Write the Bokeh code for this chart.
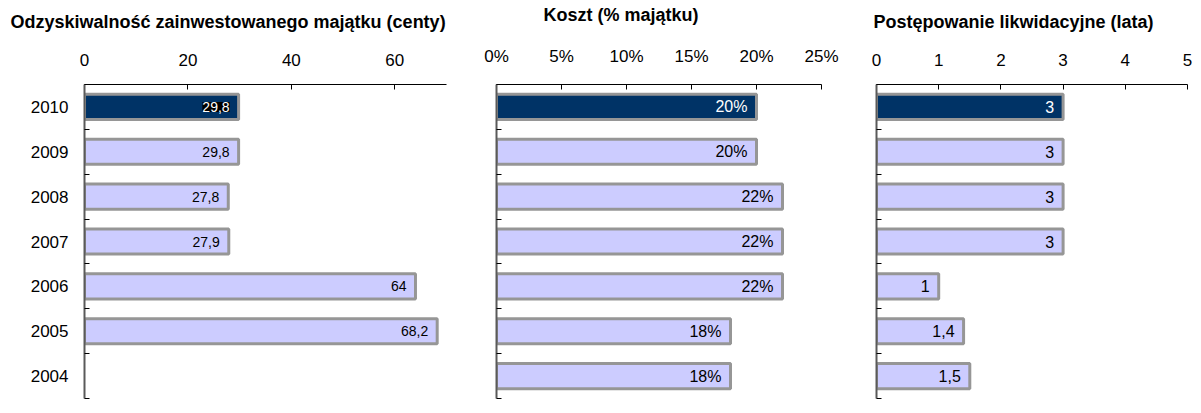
from bokeh.plotting import figure
from bokeh.layouts import row
from bokeh.models import Range1d, FixedTicker, ColumnDataSource, LabelSet, PrintfTickFormatter
from bokeh.core.properties import value
from bokeh.embed import file_html
from bokeh.resources import INLINE

# ---- data ----
years = ["2010", "2009", "2008", "2007", "2006", "2005", "2004"]
recovery = [29.8, 29.8, 27.8, 27.9, 64, 68.2, None]      # cents
cost = [20, 20, 22, 22, 22, 18, 18]                        # % of estate
duration = [3, 3, 3, 3, 1, 1.4, 1.5]                       # years

title_recovery = "Odzyskiwalność zainwestowanego majątku (centy)"
title_cost = "Koszt (% majątku)"
title_duration = "Postępowanie likwidacyjne (lata)"

ticks_recovery = [0, 20, 40, 60]
ticks_cost = [0, 5, 10, 15, 20, 25]
ticks_duration = [0, 1, 2, 3, 4, 5]

DARK = "#003366"
LIGHT = "#CCCCFF"
EDGE = "#969696"
FONT = "Liberation Sans"
H = 412


def fmt_num(v):
    return ("%g" % v).replace(".", ",")


def make_panel(title, values, suffix, xmax, xticks, width, bl, br, lab_size,
               title_offset, show_years, first_bg=None):
    n = len(years)
    p = figure(width=width, height=H, x_range=Range1d(0, xmax), y_range=Range1d(0, n),
               x_axis_location="above", output_backend="svg", toolbar_location=None,
               min_border_left=bl, min_border_right=br, min_border_top=84,
               min_border_bottom=H - 398)
    p.outline_line_color = None
    p.xgrid.visible = False
    p.ygrid.visible = False

    ys, rights, fills, labels, tcols = [], [], [], [], []
    for i, (yr, v) in enumerate(zip(years, values)):
        if v is None:
            continue
        ys.append(n - 1 - i + 0.5)
        rights.append(v)
        fills.append(DARK if i == 0 else LIGHT)
        labels.append(fmt_num(v) + suffix)
        tcols.append("white" if i == 0 else "black")
    src = ColumnDataSource(dict(y=ys, right=rights, fill=fills, label=labels, tcol=tcols))
    p.hbar(y="y", left=0, right="right", height=0.56, fill_color="fill",
           line_color=EDGE, line_width=3, source=src)

    if first_bg:
        src_a = ColumnDataSource(dict(y=ys[:1], right=rights[:1], label=labels[:1]))
        src_b = ColumnDataSource(dict(y=ys[1:], right=rights[1:], label=labels[1:]))
        p.add_layout(LabelSet(x="right", y="y", text="label", source=src_a, x_offset=-9,
                              text_align="right", text_baseline="middle",
                              text_color="white",
                              text_font=value(FONT), text_font_size=lab_size,
                              background_fill_color=first_bg))
        p.add_layout(LabelSet(x="right", y="y", text="label", source=src_b, x_offset=-9,
                              text_align="right", text_baseline="middle",
                              text_color="black",
                              text_font=value(FONT), text_font_size=lab_size))
    else:
        p.add_layout(LabelSet(x="right", y="y", text="label", source=src, x_offset=-9,
                              text_align="right", text_baseline="middle", text_color="tcol",
                              text_font=value(FONT), text_font_size=lab_size))

    xa = p.xaxis[0]
    xa.ticker = FixedTicker(ticks=xticks)
    if suffix == "%":
        xa.formatter = PrintfTickFormatter(format="%d%%")
    xa.major_tick_in = 5
    xa.major_tick_out = 0
    xa.minor_tick_in = 0
    xa.minor_tick_out = 0
    xa.axis_line_color = "black"
    xa.major_tick_line_color = "black"
    xa.major_label_standoff = 19
    xa.major_label_text_font = FONT
    xa.major_label_text_font_size = "17px"
    xa.major_label_text_color = "black"
    # invisible spacer between tick labels and the panel title
    xa.axis_label = " "
    xa.axis_label_standoff = 0
    xa.axis_label_text_font_size = "14px"

    ya = p.yaxis[0]
    ya.ticker = FixedTicker(ticks=[n - 1 - i + 0.5 for i in range(n)],
                            minor_ticks=list(range(n + 1)))
    ya.major_tick_in = 0
    ya.major_tick_out = 0
    ya.minor_tick_in = 5
    ya.minor_tick_out = 0
    ya.axis_line_color = "#5a5a5a"
    ya.axis_line_width = 2
    ya.minor_tick_line_color = "black"
    ya.major_label_standoff = 16
    ya.major_label_text_font = FONT
    ya.major_label_text_font_size = "17px"
    ya.major_label_text_color = "black"
    if show_years:
        ya.major_label_overrides = {n - 1 - i + 0.5: yr for i, yr in enumerate(years)}
    else:
        ya.major_label_overrides = {n - 1 - i + 0.5: "" for i in range(n)}

    p.title.text = title
    p.title.align = "left"
    p.title.offset = title_offset
    p.title.standoff = 0
    p.title.text_font = FONT
    p.title.text_font_size = "18px"
    p.title.text_font_style = "bold"
    p.title.text_color = "black"
    return p


p1 = make_panel(title_recovery, recovery, "", 70, ticks_recovery, 470, 84, 24, "14px",
                -74, True, first_bg="black")
p2 = make_panel(title_cost, cost, "%", 25, ticks_cost, 380, 26, 29, "16px",
                47, False)
p3 = make_panel(title_duration, duration, "", 5, ticks_duration, 350, 26, 13, "16px",
                -3, False)

layout = row(p1, p2, p3)
open("out.html", "w").write(file_html(layout, INLINE))
